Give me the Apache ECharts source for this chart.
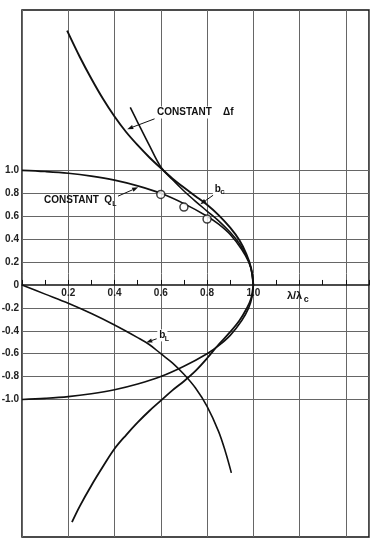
<!DOCTYPE html>
<html><head><meta charset="utf-8">
<script src="https://cdn.jsdelivr.net/npm/echarts@6/dist/echarts.min.js"></script>
<style>html,body{margin:0;padding:0;background:#fff}#c{width:374px;height:542px}</style>
</head><body><div id="c"></div>
<script>
// ---- data ----
const qlX      = [0, 0.1, 0.2, 0.3, 0.4, 0.5, 0.6, 0.7, 0.8, 0.85, 0.9, 0.95, 0.98, 0.995, 1.0];
const qlUpper  = [1.0, 0.99, 0.975, 0.95, 0.915, 0.865, 0.8, 0.71, 0.6, 0.53, 0.44, 0.31, 0.2, 0.1, 0];
const qlLower  = [-1.0, -0.99, -0.975, -0.95, -0.915, -0.865, -0.8, -0.71, -0.6, -0.53, -0.44, -0.31, -0.2, -0.1, 0];

const dfX      = [0.195, 0.25, 0.3, 0.35, 0.4, 0.45, 0.5, 0.55, 0.6, 0.65, 0.7, 0.75, 0.8, 0.85, 0.9, 0.94, 0.97, 0.99, 1.0];
const dfUpper  = [2.22, 1.99, 1.80, 1.625, 1.47, 1.335, 1.22, 1.115, 1.02, 0.93, 0.85, 0.775, 0.70, 0.61, 0.50, 0.39, 0.27, 0.15, 0];

const dfLowX   = [0.216, 0.25, 0.3, 0.35, 0.4, 0.45, 0.5, 0.55, 0.6, 0.65, 0.7, 0.75, 0.8, 0.85, 0.9, 0.94, 0.97, 0.99, 1.0];
const dfLower  = [-2.07, -1.93, -1.75, -1.585, -1.43, -1.31, -1.20, -1.10, -1.01, -0.92, -0.84, -0.75, -0.64, -0.52, -0.41, -0.31, -0.21, -0.12, 0];

const bcX      = [0.468, 0.5, 0.55, 0.6, 0.65, 0.7, 0.75, 0.8, 0.85, 0.9, 0.94, 0.97, 0.99, 1.0];
const bcY      = [1.55, 1.42, 1.22, 1.03, 0.92, 0.82, 0.73, 0.645, 0.56, 0.46, 0.36, 0.255, 0.145, 0];

const blX      = [0, 0.1, 0.2, 0.3, 0.4, 0.5, 0.55, 0.6, 0.65, 0.7, 0.75, 0.8, 0.85, 0.88, 0.905];
const blY      = [0, -0.08, -0.16, -0.25, -0.35, -0.46, -0.52, -0.60, -0.68, -0.78, -0.90, -1.06, -1.28, -1.46, -1.64];

const ptX      = [0.6, 0.7, 0.8];
const ptY      = [0.79, 0.68, 0.575];

const hGridValues = [-1.0, -0.8, -0.6, -0.4, -0.2, 0.2, 0.4, 0.6, 0.8, 1.0];

const zip = (a, b) => a.map((v, i) => [v, b[i]]);

const chart = echarts.init(document.getElementById('c'), null, {renderer: 'canvas'});
const FONT = '"Liberation Sans", Arial, sans-serif';

const GRID = {left: 22, top: 10, right: 5, bottom: 5};
const Y_MIN = -2.2, Y_MAX = 2.4;
const plotH = 542 - GRID.top - GRID.bottom;
// distance (px) from the grid's bottom edge up to value 0 on the y axis
const zeroOffset = -plotH * (0 - Y_MIN) / (Y_MAX - Y_MIN);

const curve = (data, w) => ({
  type: 'line', data: data, showSymbol: false, smooth: 0.35, silent: true,
  lineStyle: {color: '#111', width: w}, z: 5
});

chart.setOption({
  animation: false,
  grid: Object.assign({show: true, borderColor: '#111', borderWidth: 1.5, backgroundColor: '#fff',
    containLabel: false, outerBoundsMode: 'none'}, GRID),
  xAxis: [{
    type: 'value', min: 0, max: 1.5, interval: 0.2, position: 'bottom', offset: zeroOffset,
    axisLine: {show: true, onZero: false, lineStyle: {color: '#111', width: 1.5}},
    axisTick: {show: false},
    splitLine: {show: true, lineStyle: {color: '#666', width: 1}},
    axisLabel: {
      margin: 3, fontSize: 10, fontWeight: 'bold', fontFamily: FONT, color: '#222',
      formatter: v => (v > 0.05 && v < 1.05) ? v.toFixed(1) : ''
    }
  }, {
    type: 'value', min: 0, max: 1.5, interval: 0.1, position: 'bottom', offset: zeroOffset,
    axisLine: {show: false, onZero: false},
    axisTick: {show: true, inside: true, length: 5, lineStyle: {color: '#111', width: 1}},
    splitLine: {show: false},
    axisLabel: {show: false}
  }],
  yAxis: {
    type: 'value', min: Y_MIN, max: Y_MAX, interval: 0.2,
    axisLine: {show: false}, axisTick: {show: false}, splitLine: {show: false},
    axisLabel: {
      margin: 3, fontSize: 10, fontWeight: 'bold', fontFamily: FONT, color: '#222',
      formatter: v => Math.abs(v) > 1.001 ? '' : (Math.abs(v) < 1e-9 ? '0' : v.toFixed(1))
    }
  },
  series: [
    {
      type: 'line', data: [], silent: true,
      markLine: {
        silent: true, symbol: 'none', label: {show: false}, animation: false,
        lineStyle: {color: '#666', width: 1, type: 'solid'},
        data: hGridValues.map(v => ({yAxis: v}))
      }
    },
    curve(zip(qlX, qlUpper), 1.6),
    curve(zip(qlX, qlLower), 1.6),
    curve(zip(dfX, dfUpper), 1.9),
    curve(zip(dfLowX, dfLower), 1.8),
    curve(zip(bcX, bcY), 1.6),
    curve(zip(blX, blY), 1.6),
    {
      type: 'scatter', data: zip(ptX, ptY), symbol: 'circle', symbolSize: 8, z: 6,
      itemStyle: {color: '#fff', borderColor: '#111', borderWidth: 1.5}
    }
  ]
});

// ---- annotations (positions in data coordinates) ----
const P = (x, y) => chart.convertToPixel({gridIndex: 0}, [x, y]);
const txtStyle = (size) => ({fontSize: size, fontWeight: 'bold', fontFamily: FONT, fill: '#111'});
const gfx = [];
function label(x, y, text, size, bg) {
  const p = P(x, y);
  gfx.push({type: 'text', x: p[0], y: p[1], z: 20,
    style: Object.assign(txtStyle(size), {text: text, verticalAlign: 'middle', align: 'left',
      backgroundColor: bg ? '#fff' : 'transparent', padding: bg ? [1, 2] : 0})});
}
function arrow(x0, y0, x1, y1) {
  const a = P(x0, y0), b = P(x1, y1);
  const dx = b[0] - a[0], dy = b[1] - a[1], L = Math.hypot(dx, dy);
  const ux = dx / L, uy = dy / L, hl = 6, hw = 2.2;
  const base = [b[0] - ux * hl, b[1] - uy * hl];
  gfx.push({type: 'polyline', z: 20, shape: {points: [a, base]}, style: {stroke: '#111', lineWidth: 1, fill: null}});
  gfx.push({type: 'polygon', z: 20, shape: {points: [b, [base[0] - uy * hw, base[1] + ux * hw], [base[0] + uy * hw, base[1] - ux * hw]]},
    style: {fill: '#111', stroke: null}});
}
label(0.575, 1.505, 'CONSTANT    Δf', 10, true);
arrow(0.573, 1.45, 0.455, 1.36);
label(0.095, 0.74, 'CONSTANT  Q', 10, false);
label(0.39, 0.705, 'L', 7, false);
arrow(0.415, 0.775, 0.502, 0.852);
label(0.825, 0.835, 'b', 10, true);
label(0.857, 0.81, 'c', 8, false);
arrow(0.826, 0.783, 0.771, 0.704);
label(0.585, -0.44, 'b', 10, true);
label(0.617, -0.47, 'L', 7, false);
arrow(0.582, -0.47, 0.537, -0.502);
label(1.145, -0.10, 'λ/λ', 11, false);
label(1.218, -0.13, 'c', 9, false);
chart.setOption({graphic: gfx});
</script>
</body></html>
